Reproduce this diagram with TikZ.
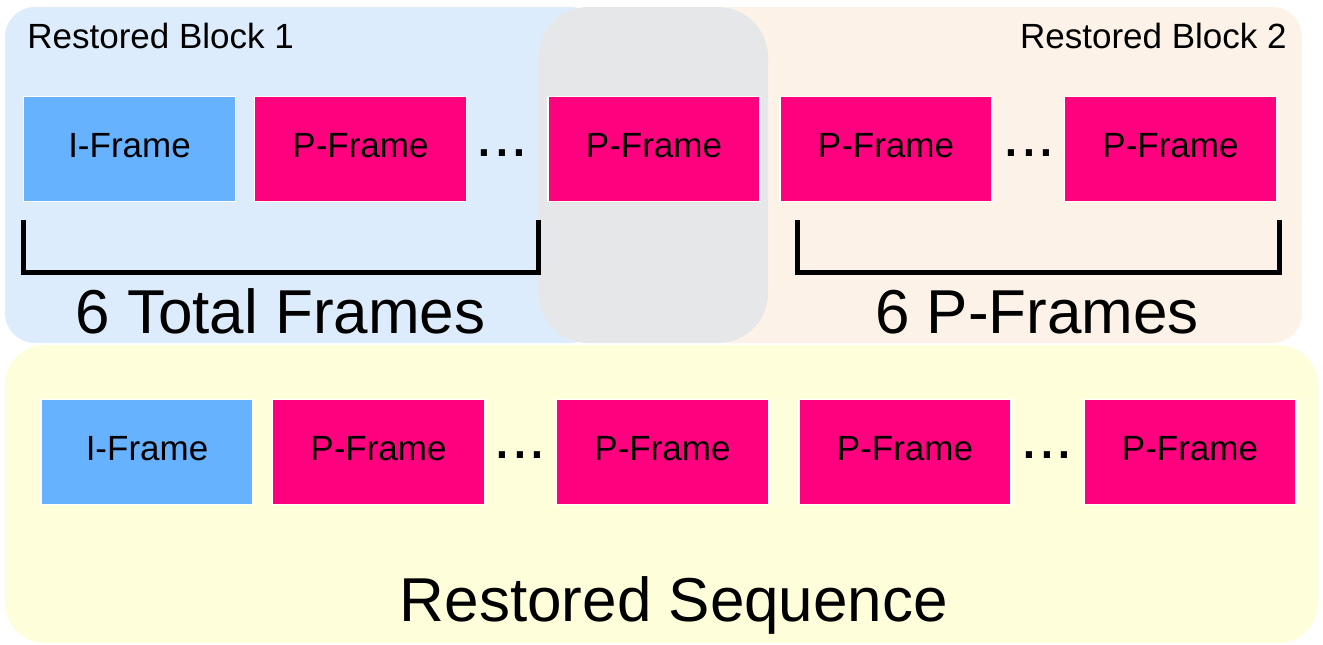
\documentclass[tikz,border=0pt]{standalone}
\usepackage{fontspec}
\setmainfont{Liberation Sans}
\usepackage{tikz}
\usetikzlibrary{positioning}
\definecolor{iblue}{RGB}{102,178,255}
\definecolor{ppink}{RGB}{255,0,127}
\definecolor{blockone}{RGB}{221,236,253}
\definecolor{blocktwo}{RGB}{253,242,232}
\definecolor{overlapgray}{RGB}{230,231,233}
\definecolor{seqyellow}{RGB}{255,254,218}
\tikzset{
  frame/.style={minimum width=106pt, minimum height=52.5pt, inner sep=0pt,
    text depth=3.5pt, draw=white, line width=0.6pt,
    font=\fontsize{17.5pt}{21pt}\selectfont},
  iframe/.style={frame, fill=iblue},
  pframe/.style={frame, fill=ppink},
  dots/.style={inner sep=0pt, font=\fontsize{32pt}{38pt}\selectfont, anchor=base},
  small/.style={inner sep=0pt, font=\fontsize{17.5pt}{21pt}\selectfont},
  big/.style={inner sep=0pt, anchor=base, font=\fontsize{31pt}{37pt}\selectfont},
  bracket/.style={line width=2.5pt}
}

\begin{document}
\begin{tikzpicture}[x=0.5pt, y=-0.5pt]
        \useasboundingbox (0,0) rectangle (1323,644);

        %block backgrounds
        \fill[blockone, rounded corners=15pt] (5,7) rectangle (600,343);
        \fill[blocktwo, rounded corners=15pt] (700,7) rectangle (1302,343);
        \fill[overlapgray, rounded corners=25pt] (538,7) rectangle (768,343);
        \fill[seqyellow, rounded corners=20pt] (5,345) rectangle (1318,643);

        \node[small, anchor=base west] (b1) at (27,48) {Restored Block 1};
        \node[small, anchor=base east] (b2) at (1287,48) {Restored Block 2};

        %block 1
        \node[iframe] (i1) at (129.5,149) {I-Frame};
        \node[pframe] (p1) at (360.5,149) {P-Frame};
        \node[dots] (d1) at (502,156) {...};
        \node[pframe] (p2) at (654,149) {P-Frame};

        %block 2
        \node[pframe] (p3) at (886,149) {P-Frame};
        \node[dots] (d2) at (1029,156) {...};
        \node[pframe] (p4) at (1170.5,149) {P-Frame};

        %brackets
        \draw[bracket] (23,220) -- (23,272) -- (538,272) -- (538,220);
        \draw[bracket] (797,220) -- (797,272) -- (1279,272) -- (1279,220);
        \node[big] (tot) at (280.5,333) {6 Total Frames};
        \node[big] (np) at (1037,333) {6 P-Frames};

        %restored sequence
        \node[iframe] (s1) at (147,452) {I-Frame};
        \node[pframe] (s2) at (378.5,452) {P-Frame};
        \node[dots] (d3) at (520,458) {...};
        \node[pframe] (s3) at (662.5,452) {P-Frame};
        \node[pframe] (s4) at (905,452) {P-Frame};
        \node[dots] (d4) at (1047,458) {...};
        \node[pframe] (s5) at (1190,452) {P-Frame};
        \node[big] (seq) at (674,621) {Restored Sequence};
\end{tikzpicture}
\end{document}
